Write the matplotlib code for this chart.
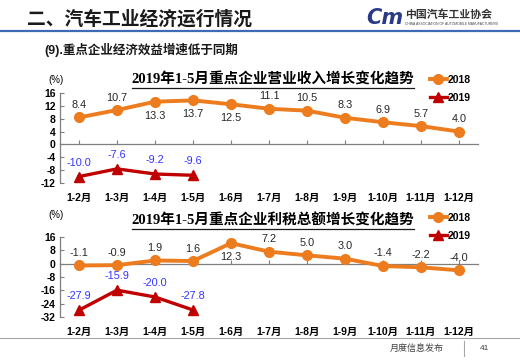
import matplotlib.pyplot as plt
from matplotlib.lines import Line2D
from matplotlib.transforms import blended_transform_factory

plt.rcParams['font.family'] = ['Liberation Sans', 'Noto Sans CJK SC', 'DejaVu Sans']

months = ['1-2月', '1-3月', '1-4月', '1-5月', '1-6月', '1-7月', '1-8月',
          '1-9月', '1-10月', '1-11月', '1-12月']

# 营业收入增长 (%)
revenue_2018 = [8.4, 10.7, 13.3, 13.7, 12.5, 11.1, 10.5, 8.3, 6.9, 5.7, 4.0]
revenue_2019 = [-10.0, -7.6, -9.2, -9.6]
revenue_2018_below = [2, 3, 4]          # labels drawn under the point

# 利税总额增长 (%)
tax_2018 = [-1.1, -0.9, 1.9, 1.6, 12.3, 7.2, 5.0, 3.0, -1.4, -2.2, -4.0]
tax_2019 = [-27.9, -15.9, -20.0, -27.8]
tax_2018_below = [4]

revenue_ticks = [16, 12, 8, 4, 0, -4, -8, -12]
tax_ticks = [16, 8, 0, -8, -16, -24, -32]

ORANGE = '#EC7C1E'
RED = '#C00000'
BLUE = '#3333FF'
GREY = '#7F7F7F'

W, H = 520, 360
fig = plt.figure(figsize=(W / 100, H / 100), dpi=100)


def fx(px):
    return px / W


def fy(py):
    return 1 - py / H


# header
fig.text(fx(27), fy(19), '二、汽车工业经济运行情况', fontsize=13.5, fontweight='bold',
         va='center', ha='left', color='#1a1a1a')
fig.add_artist(Line2D([0, 1], [fy(31), fy(31)], color='#3F6BB5', lw=1.6))
fig.text(fx(366), fy(18), 'Cm', fontsize=15, fontweight='bold', fontstyle='italic',
         color='#2B3A86', va='center', ha='left', family=['DejaVu Sans'])
fig.text(fx(405), fy(15), '中国汽车工业协会', fontsize=7.8, fontweight='bold',
         color='#333333', va='center', ha='left')
fig.text(fx(405), fy(24), 'CHINA ASSOCIATION OF AUTOMOBILE MANUFACTURERS', fontsize=2.4,
         color='#444444', va='center', ha='left')
fig.text(fx(44), fy(50), '(9).重点企业经济效益增速低于同期', fontsize=9, fontweight='bold',
         va='center', ha='left', color='#1a1a1a')

# footer
fig.add_artist(Line2D([0, 1], [fy(338), fy(338)], color='#A6A6A6', lw=0.8))
fig.add_artist(Line2D([fx(464), fx(464)], [fy(341), fy(356)], color='#A6A6A6', lw=0.8))
fig.text(fx(390), fy(348), '月度信息发布', fontsize=6.5, color='#404040', va='center', ha='left')
fig.text(fx(480), fy(348), '41', fontsize=6, color='#404040', va='center', ha='left')


def make_panel(top, bottom, ylim, yticks, s2018, s2019, below, title, title_y, legend_y, pct_y):
    ax = fig.add_axes([fx(60), fy(bottom), fx(478) - fx(60), fy(top) - fy(bottom)])
    x = list(range(len(months)))
    ax.plot(x, s2018, color=ORANGE, lw=2.8, marker='o', ms=7, zorder=3)
    ax.plot(x[:len(s2019)], s2019, color=RED, lw=2.4, marker='^', ms=7, zorder=3)

    for i, v in enumerate(s2018):
        off = -10 if i in below else 9
        ax.annotate(f'{v:.1f}', (i, v), xytext=(0, off), textcoords='offset points',
                    ha='center', va='center', fontsize=7.8, color='#262626')
    for i, v in enumerate(s2019):
        ax.annotate(f'{v:.1f}', (i, v), xytext=(0, 10), textcoords='offset points',
                    ha='center', va='center', fontsize=7.8, color=BLUE)

    ax.set_xlim(-0.5, len(months) - 0.5)
    ax.set_ylim(*ylim)
    ax.set_yticks(yticks)
    ax.set_yticklabels([str(t) for t in yticks], fontsize=7.5, fontweight='bold')
    ax.set_xticks(x)
    ax.set_xticklabels([])
    ax.spines['top'].set_visible(False)
    ax.spines['right'].set_visible(False)
    ax.spines['bottom'].set_position(('data', 0))
    for s in ('left', 'bottom'):
        ax.spines[s].set_color(GREY)
        ax.spines[s].set_linewidth(0.9)
    ax.tick_params(axis='both', direction='in', length=3, color=GREY, width=0.8, pad=3)
    ax.patch.set_alpha(0)

    trans = blended_transform_factory(ax.transData, ax.transAxes)
    for i, m in enumerate(months):
        ax.text(i, -0.17 * (90 / (bottom - top)), m, transform=trans, ha='center', va='center',
                fontsize=7.5, fontweight='bold')

    fig.text(fx(48), fy(pct_y), '(%)', fontsize=7, va='center', ha='left')

    t = fig.text(fx(273), fy(title_y), title, fontsize=10.5, fontweight='bold', ha='center',
                 va='center', family=['Liberation Serif', 'Noto Sans CJK SC'])
    fig.canvas.draw()
    bb = t.get_window_extent().transformed(fig.transFigure.inverted())
    fig.add_artist(Line2D([bb.x0, bb.x1], [bb.y0 - 0.004, bb.y0 - 0.004], color='#1a1a1a', lw=0.9))

    handles = [Line2D([], [], color=ORANGE, lw=2.8, marker='o', ms=7),
               Line2D([], [], color=RED, lw=2.4, marker='^', ms=7)]
    fig.legend(handles, ['2018', '2019'], loc='upper left',
               bbox_to_anchor=(fx(430), fy(legend_y)), frameon=False,
               prop={'weight': 'bold', 'size': 7.5}, handlelength=1.6, handletextpad=0.1,
               labelspacing=0.75, borderpad=0, borderaxespad=0)
    return ax


make_panel(93, 183, (-12, 16), revenue_ticks, revenue_2018, revenue_2019, revenue_2018_below,
           '2019年1-5月重点企业营业收入增长变化趋势', 80, 75, 80)
make_panel(237, 317, (-32, 16), tax_ticks, tax_2018, tax_2019, tax_2018_below,
           '2019年1-5月重点企业利税总额增长变化趋势', 220, 213, 215)

fig.savefig('out.png', dpi=100)
